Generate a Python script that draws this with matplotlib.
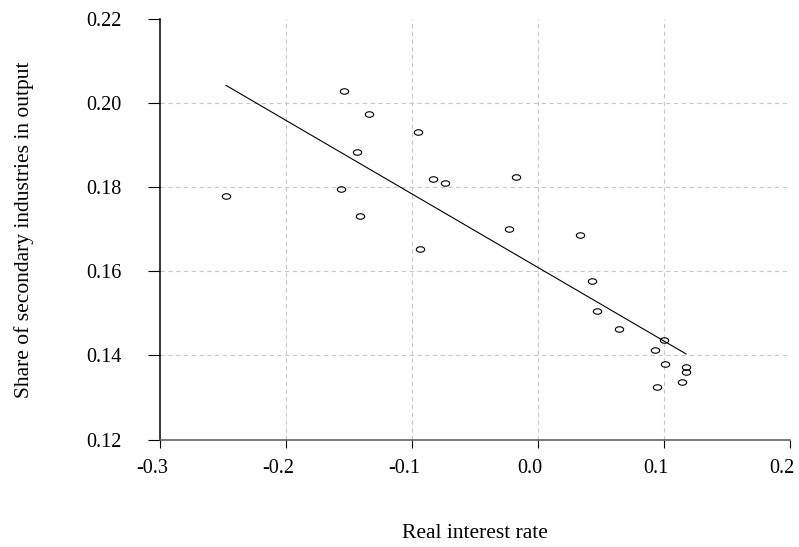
import numpy as np
import matplotlib
matplotlib.use("Agg")
import matplotlib.pyplot as plt
from matplotlib.path import Path
from matplotlib.transforms import Affine2D, ScaledTranslation

# real interest rate vs share of secondary industries
rate = [-0.2476, -0.1566, -0.1537, -0.1439, -0.1413, -0.1340, -0.0952, -0.0939,
        -0.0831, -0.0741, -0.0233, -0.0175, 0.0333, 0.0426, 0.0466, 0.0645,
        0.0998, 0.0926, 0.1005, 0.1175, 0.1175, 0.1143, 0.0947]
share = [0.1779, 0.1796, 0.2029, 0.1885, 0.1732, 0.1975, 0.1931, 0.1654,
         0.1819, 0.1810, 0.1701, 0.1824, 0.1686, 0.1577, 0.1505, 0.1462,
         0.1436, 0.1412, 0.1380, 0.1372, 0.1361, 0.1336, 0.1324]

x_ticks = [-0.3, -0.2, -0.1, 0.0, 0.1, 0.2]
y_ticks = [0.12, 0.14, 0.16, 0.18, 0.20, 0.22]

plt.rcParams["font.family"] = ["Liberation Serif", "DejaVu Serif"]

fig = plt.figure(figsize=(7.99, 5.47), dpi=100)
ax = fig.add_axes([0.2003, 0.1965, 0.7884, 0.7682])

# ellipse marker (the original is a bit stretched sideways)
oval = Path.unit_circle().transformed(Affine2D().scale(1.0, 0.66))

# dashed grid, inner lines only
for xv in x_ticks[1:-1]:
    ax.axvline(xv, color="#c8c8c8", lw=0.8, ls=(0, (4, 3)), zorder=0)
for yv in y_ticks[1:-1]:
    ax.axhline(yv, color="#c8c8c8", lw=0.8, ls=(0, (4, 3)), zorder=0)

ax.plot(rate, share, ls="none", marker=oval, ms=6, mfc="none",
        mec="black", mew=0.8, zorder=3)

# OLS fit line over the data range
slope, inter = np.polyfit(rate, share, 1)
xs = np.array([min(rate), max(rate)])
ax.plot(xs, inter + slope * xs, color="black", lw=0.8, zorder=2)

ax.set_xlim(-0.3, 0.2)
ax.set_ylim(0.12, 0.22)
ax.set_xticks(x_ticks)
ax.set_xticklabels(["-0.3", "-0.2", "-0.1", "0.0", "0.1", "0.2"])
ax.set_yticks(y_ticks)
ax.set_yticklabels(["0.12", "0.14", "0.16", "0.18", "0.20", "0.22"])

ax.spines["top"].set_visible(False)
ax.spines["right"].set_visible(False)
ax.spines["left"].set_linewidth(1.1)
ax.spines["left"].set_color("black")
ax.spines["bottom"].set_linewidth(1.1)
ax.spines["bottom"].set_color("#555555")

ax.tick_params(axis="y", direction="out", length=8.6, width=0.8, pad=19,
               labelsize=14.5, colors="black")
ax.tick_params(axis="x", direction="out", length=6, width=0.8, pad=8,
               labelsize=14.5, colors="black")

# x tick labels sit a little left of their ticks in the original
shift = ScaledTranslation(-8 / 100, 0, fig.dpi_scale_trans)
for lab in ax.get_xticklabels():
    lab.set_transform(lab.get_transform() + shift)

ax.set_xlabel("Real interest rate", fontsize=15.5, labelpad=33)
ax.set_ylabel("Share of secondary industries in output", fontsize=15.5, labelpad=38)

fig.savefig("out.png", dpi=100)
